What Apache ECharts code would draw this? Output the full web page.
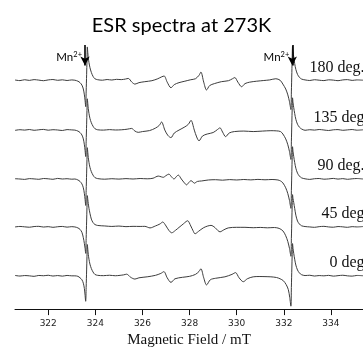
<!DOCTYPE html>
<html>
<head>
<meta charset="utf-8">
<title>ESR spectra at 273K</title>
<script src="https://cdn.jsdelivr.net/npm/echarts@6/dist/echarts.min.js"></script>
<style>
  html, body { margin: 0; padding: 0; background: #fff; }
  #chart { width: 363px; height: 353px; }
</style>
</head>
<body>
<div id="chart"></div>
<script>
// magnetic field axis (mT)
const fieldMin = 320.59
const fieldMax = 335.36
const fieldTicks = [322, 324, 326, 328, 330, 332, 334]

const traceNames = ['180 deg.', '135 deg', '90 deg.', '45 deg', '0 deg']
const traceOffsets = [234, 183, 133, 84, 34]
const mnFields = [323.56, 332.36]

// [field / mT, signal], relative to its own baseline
const trace180 = [
  [320.59, 0.2], [320.8, -0.4], [321.0, 0.5], [321.2, -0.2], [321.4, 0.6], [321.6, 0.1], [321.8, -0.5],
  [322.0, 0.3], [322.2, 0.7], [322.4, -0.1], [322.6, 0.4], [322.8, -0.3], [323.0, 0.3], [323.13, 0],
  [323.26, -1], [323.35, -2.5], [323.43, -5], [323.49, -9], [323.535, -15], [323.565, -21], [323.59, -27],
  [323.61, -12], [323.63, 6], [323.645, 20], [323.66, 34], [323.68, 28], [323.7, 23], [323.73, 18],
  [323.77, 13], [323.83, 8], [323.9, 4], [323.98, 1.5],
  [324.1, 0.5], [324.3, 0], [324.5, 0.7], [324.7, 0.2], [324.9, 0.9], [325.1, 0.6], [325.28, 1.2],
  [325.4, 1.8], [325.55, -2], [325.68, -4], [325.85, -2.5], [326.1, -1.5], [326.4, -0.5], [326.65, 1.5],
  [326.82, 3.5], [326.92, 4.3], [327.05, -2], [327.21, -7.7], [327.35, -4.5], [327.55, -2.5], [327.8, -1],
  [328.05, 0.5], [328.25, 1.5], [328.4, 5], [328.48, 8.3], [328.6, -2], [328.72, -10], [328.85, -5.5],
  [329.05, -3.5], [329.35, -1.5], [329.65, -0.5], [329.82, 1.5], [329.92, 2.7], [330.05, -2], [330.21, -6.7],
  [330.35, -3.5], [330.55, -2], [330.85, -1], [331.15, -0.3], [331.4, 0.3], [331.66, 1.5], [331.84, 0],
  [331.96, -4], [332.08, -9], [332.17, -15], [332.24, -22], [332.3, -30], [332.32, -12], [332.34, 8],
  [332.355, 24], [332.37, 35], [332.39, 29], [332.42, 24], [332.46, 17], [332.51, 11], [332.58, 6],
  [332.66, 3], [332.75, 1.2],
  [332.9, 0.3], [333.1, -0.3], [333.3, 0.5], [333.5, 0], [333.7, -0.4], [333.9, 0.4], [334.1, 0.1],
  [334.3, -0.5], [334.5, 0.3], [334.7, 0.6], [334.9, -0.2], [335.1, 0.3], [335.36, 0],
]

const trace135 = [
  [320.59, -0.3], [320.8, 0.4], [321.0, 0], [321.2, 0.6], [321.4, -0.2], [321.6, 0.3], [321.8, 0.7],
  [322.0, -0.1], [322.2, 0.4], [322.4, 0.1], [322.6, -0.4], [322.8, 0.5], [323.0, 0.2], [323.13, 0],
  [323.26, -1], [323.35, -2.5], [323.43, -5], [323.49, -9], [323.535, -15], [323.565, -21], [323.59, -27],
  [323.61, -12], [323.63, 6], [323.645, 20], [323.66, 32], [323.68, 27], [323.7, 22], [323.73, 17],
  [323.77, 12], [323.83, 7.5], [323.9, 4], [323.98, 1.5],
  [324.1, 0.3], [324.35, 0], [324.6, 0.5], [324.85, 0.1], [325.1, 0.3], [325.35, 0.9], [325.54, 1.7],
  [325.68, -1], [325.82, -2.3], [326.0, -1.5], [326.3, -0.5], [326.55, 2], [326.72, 5], [326.81, 8.3],
  [326.95, 0], [327.08, -5.5], [327.21, -7.7], [327.35, -3], [327.55, 0], [327.8, 3.3], [327.95, 6],
  [328.06, 10], [328.2, 0], [328.3, -7], [328.4, -11], [328.55, -6], [328.75, -4], [329.0, -2.5],
  [329.18, 0.5], [329.29, 2.3], [329.4, -2], [329.53, -6.7], [329.68, -3], [329.9, -1.5], [330.3, -1],
  [330.7, -1.5], [331.1, -1], [331.45, -0.6], [331.7, -0.8], [331.86, -1.5],
  [331.96, -4], [332.08, -9], [332.17, -15], [332.24, -22], [332.3, -30], [332.32, -12], [332.34, 8],
  [332.355, 22], [332.37, 33], [332.39, 28], [332.42, 23], [332.46, 17], [332.51, 11], [332.58, 6],
  [332.66, 3], [332.75, 1.2],
  [332.9, -0.2], [333.1, 0.4], [333.3, 0], [333.5, 0.6], [333.7, 0.1], [333.9, -0.4], [334.1, 0.3],
  [334.3, 0.5], [334.5, -0.2], [334.7, 0.2], [334.9, 0.6], [335.1, -0.1], [335.36, 0.3],
]

const trace90 = [
  [320.59, 0.3], [320.8, 0], [321.0, -0.4], [321.2, 0.4], [321.4, 0.1], [321.6, -0.3], [321.8, 0.5],
  [322.0, 0.2], [322.2, -0.3], [322.4, 0.6], [322.6, 0], [322.8, 0.3], [323.0, -0.2], [323.13, 0],
  [323.26, -1], [323.35, -2.5], [323.43, -5], [323.49, -9], [323.535, -15], [323.565, -21], [323.59, -27],
  [323.61, -12], [323.63, 6], [323.645, 20], [323.66, 32], [323.68, 27], [323.7, 22], [323.73, 17],
  [323.77, 12], [323.83, 7.5], [323.9, 4], [323.98, 1.5],
  [324.1, 0.4], [324.4, -0.2], [324.7, 0.3], [325.0, -0.1], [325.3, 0.4], [325.6, 0], [325.9, 0.5],
  [326.2, 0.2], [326.45, 0.8], [326.67, 3], [326.8, 2.2], [326.88, 1.7], [327.0, 3.5], [327.12, 5],
  [327.24, 2], [327.34, 0], [327.44, 2.5], [327.52, 4], [327.65, 0], [327.78, -4], [327.87, -6],
  [327.97, -3.5], [328.06, -1.7], [328.14, -3], [328.2, -4.3], [328.33, -2.5], [328.51, -2], [328.8, -1],
  [329.1, -0.7], [329.4, -1.2], [329.7, -0.6], [330.0, -1], [330.3, -0.5], [330.6, -0.9], [330.9, -0.4],
  [331.2, -0.8], [331.5, -0.5], [331.75, -1], [331.86, -2],
  [331.96, -4], [332.08, -9], [332.17, -15], [332.24, -22], [332.3, -30], [332.32, -12], [332.34, 8],
  [332.355, 22], [332.37, 33], [332.39, 28], [332.42, 23], [332.46, 17], [332.51, 11], [332.58, 6],
  [332.66, 3], [332.75, 1.2],
  [332.9, 0.2], [333.1, -0.4], [333.3, 0.3], [333.5, 0.5], [333.7, -0.2], [333.9, 0.1], [334.1, 0.6],
  [334.3, -0.1], [334.5, 0.4], [334.7, -0.3], [334.9, 0.2], [335.1, 0.5], [335.36, 0],
]

const trace45 = [
  [320.59, 0], [320.8, 0.5], [321.0, 0.1], [321.2, -0.3], [321.4, 0.4], [321.6, 0.6], [321.8, -0.1],
  [322.0, 0.3], [322.2, -0.4], [322.4, 0.2], [322.6, 0.5], [322.8, -0.2], [323.0, 0.3], [323.13, 0],
  [323.26, -1], [323.35, -2.5], [323.43, -5.5], [323.49, -11], [323.535, -17], [323.565, -22], [323.59, -27],
  [323.61, -12], [323.63, 6], [323.645, 20], [323.66, 32], [323.68, 28], [323.7, 24], [323.73, 19],
  [323.77, 14], [323.83, 8], [323.9, 4.5], [323.98, 2.5],
  [324.1, 1.5], [324.4, 1], [324.7, 0.5], [325.0, 0.9], [325.3, 0.3], [325.6, 0.6], [325.9, 0.5],
  [326.1, 0.6], [326.32, -1], [326.55, 1], [326.74, 3], [326.86, 5], [327.0, 1], [327.12, -3.5],
  [327.24, -6], [327.4, -3.5], [327.55, -0.5], [327.73, 3], [327.85, 5.5], [327.92, 6.3], [328.05, 1],
  [328.15, -4], [328.23, -7], [328.38, -4.5], [328.58, -1], [328.75, 0.8], [328.91, 1.6], [329.08, -0.7],
  [329.2, -3.7], [329.29, -5], [329.45, -3], [329.64, -1], [330.0, -0.4], [330.35, -0.4], [330.7, -0.8],
  [331.0, -0.5], [331.3, -0.9], [331.6, -0.6], [331.8, -1.5],
  [331.96, -4], [332.08, -9], [332.17, -15], [332.24, -22], [332.3, -30], [332.32, -12], [332.34, 8],
  [332.355, 22], [332.37, 33], [332.39, 29], [332.42, 25], [332.46, 19], [332.51, 12], [332.58, 6],
  [332.66, 3], [332.75, 1.2],
  [332.9, 0.4], [333.1, 0], [333.3, -0.4], [333.5, 0.3], [333.7, 0.6], [333.9, 0], [334.1, -0.3],
  [334.3, 0.4], [334.5, 0.1], [334.7, -0.4], [334.9, 0.3], [335.1, 0], [335.36, 0.4],
]

const trace0 = [
  [320.59, 0.4], [320.8, -0.2], [321.0, 0.3], [321.2, 0], [321.4, -0.5], [321.6, 0.4], [321.8, 0.1],
  [322.0, 0.6], [322.2, -0.2], [322.4, 0.3], [322.6, -0.3], [322.8, 0.4], [323.0, 0], [323.13, 0],
  [323.26, -0.5], [323.35, -2], [323.43, -4], [323.49, -7.5], [323.535, -13], [323.565, -20], [323.59, -26],
  [323.61, -12], [323.63, 6], [323.645, 20], [323.66, 32], [323.68, 27], [323.7, 22], [323.73, 17],
  [323.77, 12], [323.83, 7.5], [323.9, 4], [323.98, 1.5],
  [324.1, 0.5], [324.35, 0.2], [324.6, 0.6], [324.85, 0.1], [325.05, 0.5], [325.2, 1], [325.33, 1.7],
  [325.5, -1.5], [325.68, -3.3], [325.85, -2], [326.2, -1], [326.55, 0.5], [326.78, 2.5], [326.91, 4.3],
  [327.05, -2], [327.21, -6.7], [327.38, -3], [327.7, -1.5], [328.0, -0.5], [328.25, 1.5], [328.4, 4.5],
  [328.48, 7.3], [328.6, -2], [328.72, -9.3], [328.88, -4], [329.1, -2.5], [329.5, -1], [329.8, 1.5],
  [329.95, 3.3], [330.1, -2], [330.28, -6], [330.45, -3], [330.7, -1], [330.95, -0.7], [331.2, -0.8],
  [331.45, -1], [331.69, -1.7], [331.84, -3],
  [331.98, -5], [332.1, -9], [332.19, -14], [332.25, -22], [332.3, -31], [332.32, -12], [332.34, 8],
  [332.355, 22], [332.37, 33], [332.39, 28], [332.42, 23], [332.46, 17], [332.51, 11], [332.58, 6],
  [332.66, 3], [332.75, 1.2],
  [332.9, 0.3], [333.1, 0.6], [333.3, -0.2], [333.5, 0.3], [333.7, 0], [333.9, 0.5], [334.1, -0.3],
  [334.3, 0.2], [334.5, 0.6], [334.7, 0], [334.9, -0.3], [335.1, 0.4], [335.36, 0.1],
]

const traces = [trace180, trace135, trace90, trace45, trace0]

const chart = echarts.init(document.getElementById('chart'))

const lineColor = '#3c3c3c'

const series = traces.map((data, i) => ({
  name: traceNames[i],
  type: 'line',
  data: data.map(([field, v]) => [field, v + traceOffsets[i]]),
  showSymbol: false,
  symbol: 'none',
  smooth: 0.3,
  silent: true,
  lineStyle: { color: lineColor, width: 1 },
  z: 2,
}))

// Mn2+ reference arrows, pointing down onto the top spectrum
series[0].markLine = {
  silent: true,
  symbol: ['none', 'arrow'],
  symbolSize: [7, 9],
  label: { show: false },
  lineStyle: { color: '#000', width: 1.6, type: 'solid' },
  data: mnFields.map((f) => [{ coord: [f, 270] }, { coord: [f, 249] }]),
  z: 5,
}

const option = {
  animation: false,
  backgroundColor: '#fff',
  title: {
    text: 'ESR spectra at 273K',
    left: 'center',
    top: 11,
    textStyle: {
      fontFamily: 'Lato',
      fontSize: 20,
      fontWeight: 'normal',
      color: '#000',
    },
  },
  grid: { left: 15, right: 0, top: 0, bottom: 37 },
  xAxis: {
    type: 'value',
    min: fieldMin,
    max: fieldMax,
    name: 'Magnetic Field / mT',
    nameLocation: 'middle',
    nameGap: 23,
    nameTextStyle: {
      fontFamily: 'Liberation Serif',
      fontSize: 15,
      color: '#111',
    },
    axisLine: { show: true, lineStyle: { color: '#111', width: 1 } },
    axisTick: {
      show: true,
      length: 6,
      customValues: fieldTicks,
      lineStyle: { color: '#111', width: 1 },
    },
    axisLabel: {
      customValues: fieldTicks,
      margin: 10,
      fontFamily: 'DejaVu Sans',
      fontSize: 9,
      color: '#222',
    },
    splitLine: { show: false },
  },
  yAxis: {
    type: 'value',
    show: false,
    min: 0,
    max: 316,
  },
  series,
}

chart.setOption(option)

// text annotations placed from data coordinates
const toPx = (field, v) => chart.convertToPixel({ gridIndex: 0 }, [field, v])

const graphic = []
traceNames.forEach((name, i) => {
  const [, y] = toPx(fieldMax, traceOffsets[i] + 13)
  graphic.push({
    type: 'text',
    x: 364.5,
    y,
    style: {
      text: name,
      align: 'right',
      verticalAlign: 'middle',
      font: '16px "Liberation Serif"',
      fill: '#111',
    },
  })
})
mnFields.forEach((f) => {
  const [x, y] = toPx(f, 257)
  graphic.push({
    type: 'text',
    x: x - 3,
    y,
    style: {
      text: '{a|Mn}{b|2+}',
      align: 'right',
      verticalAlign: 'middle',
      rich: {
        a: { fontFamily: 'Lato', fontSize: 11.5, fill: '#000', color: '#000' },
        b: { fontFamily: 'Lato', fontSize: 7.5, fill: '#000', color: '#000', verticalAlign: 'top', padding: [0, 0, 6, 0] },
      },
    },
  })
})
chart.setOption({ graphic })

window.addEventListener('resize', () => chart.resize())
</script>
</body>
</html>
